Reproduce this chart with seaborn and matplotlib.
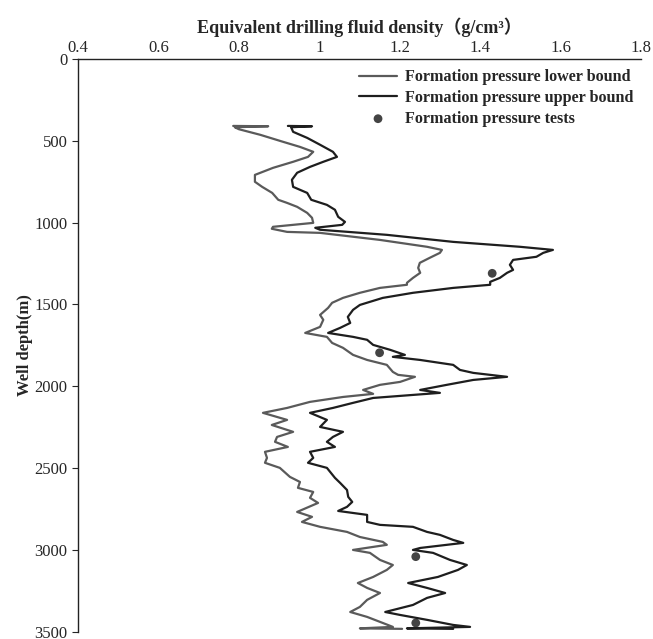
import matplotlib
matplotlib.use("Agg")
import matplotlib.pyplot as plt
import seaborn as sns
from matplotlib.ticker import FuncFormatter

sns.set_style("ticks")
plt.rcParams["font.family"] = ["Liberation Serif", "Noto Sans CJK SC"]
plt.rcParams["font.size"] = 12

# formation pressure lower bound (depth m, g/cm3)
lower_depth = [410, 412, 418, 430, 464, 507, 538, 568, 599, 629, 666, 709, 751, 782, 819,
               861, 880, 904, 941, 971, 1002, 1026, 1038, 1057, 1063, 1106, 1148, 1167, 1185,
               1215, 1246, 1277, 1307, 1338, 1368, 1380, 1399, 1429, 1460, 1490, 1521, 1564,
               1594, 1637, 1674, 1698, 1735, 1765, 1808, 1839, 1869, 1912, 1930, 1942, 1973,
               1991, 2022, 2046, 2065, 2095, 2132, 2162, 2205, 2236, 2278, 2309, 2339, 2370,
               2400, 2437, 2467, 2498, 2553, 2584, 2620, 2645, 2681, 2712, 2767, 2797, 2828,
               2858, 2889, 2920, 2950, 2968, 2999, 3017, 3060, 3091, 3121, 3164, 3201, 3231,
               3262, 3304, 3347, 3378, 3408, 3445, 3469, 3478, 3481]
lower_val = [0.786, 0.873, 0.79, 0.80, 0.853, 0.91, 0.952, 0.985, 0.972, 0.935, 0.885, 0.84,
             0.84, 0.858, 0.883, 0.898, 0.92, 0.945, 0.97, 0.982, 0.985, 0.885, 0.882, 0.92,
             1.002, 1.151, 1.268, 1.305, 1.30, 1.275, 1.25, 1.246, 1.251, 1.233, 1.218, 1.218,
             1.151, 1.101, 1.059, 1.032, 1.022, 1.002, 1.010, 1.002, 0.965, 1.019, 1.032,
             1.059, 1.084, 1.119, 1.168, 1.183, 1.196, 1.238, 1.201, 1.151, 1.109, 1.134,
             1.059, 0.977, 0.92, 0.86, 0.92, 0.882, 0.935, 0.895, 0.89, 0.922, 0.865, 0.87,
             0.865, 0.902, 0.927, 0.952, 0.947, 0.985, 0.977, 0.997, 0.945, 0.982, 0.957,
             1.002, 1.069, 1.101, 1.158, 1.168, 1.084, 1.126, 1.151, 1.183, 1.168, 1.134,
             1.096, 1.119, 1.151, 1.119, 1.101, 1.077, 1.119, 1.158, 1.183, 1.101, 1.206]

# formation pressure upper bound
upper_depth = [410, 412, 418, 446, 483, 525, 568, 599, 629, 660, 696, 739, 782, 819, 861,
               892, 922, 965, 996, 1014, 1032, 1044, 1075, 1118, 1148, 1167, 1185, 1209, 1228,
               1258, 1289, 1307, 1338, 1362, 1380, 1399, 1429, 1460, 1503, 1533, 1576, 1613,
               1643, 1674, 1698, 1716, 1747, 1777, 1808, 1820, 1839, 1869, 1900, 1918, 1942,
               1961, 1991, 2022, 2040, 2071, 2101, 2132, 2162, 2205, 2248, 2278, 2309, 2339,
               2370, 2400, 2437, 2467, 2498, 2559, 2590, 2633, 2675, 2706, 2736, 2761, 2785,
               2828, 2846, 2858, 2889, 2907, 2938, 2956, 2987, 2999, 3017, 3060, 3091, 3121,
               3164, 3201, 3231, 3262, 3292, 3335, 3378, 3396, 3426, 3457, 3469, 3478, 3481]
upper_val = [0.922, 0.982, 0.93, 0.935, 0.97, 1.002, 1.034, 1.044, 1.01, 0.977, 0.945, 0.932,
             0.935, 0.97, 0.98, 1.019, 1.039, 1.047, 1.064, 1.057, 0.99, 1.002, 1.168, 1.333,
             1.499, 1.581, 1.557, 1.54, 1.482, 1.474, 1.482, 1.467, 1.449, 1.425, 1.425, 1.333,
             1.233, 1.158, 1.101, 1.084, 1.071, 1.077, 1.052, 1.022, 1.084, 1.119, 1.134,
             1.176, 1.213, 1.183, 1.251, 1.333, 1.35, 1.383, 1.467, 1.383, 1.317, 1.251, 1.30,
             1.134, 1.084, 1.034, 0.977, 1.019, 1.002, 1.059, 1.034, 1.019, 1.039, 0.977,
             0.985, 0.972, 1.019, 1.039, 1.052, 1.069, 1.072, 1.082, 1.069, 1.047, 1.119,
             1.119, 1.151, 1.233, 1.268, 1.30, 1.333, 1.358, 1.251, 1.233, 1.283, 1.325,
             1.367, 1.345, 1.295, 1.221, 1.268, 1.313, 1.268, 1.233, 1.164, 1.201, 1.268,
             1.333, 1.375, 1.218, 1.333]

# formation pressure tests
test_depth = [1310, 1795, 3040, 3445]
test_val = [1.43, 1.15, 1.24, 1.24]

fig = plt.figure(figsize=(6.53, 6.39), dpi=100)
ax = fig.add_axes([0.1194, 0.011, 0.8622, 0.897])

sns.lineplot(x=lower_val, y=lower_depth, sort=False, estimator=None, orient="y",
             color="#5a5a5a", linewidth=1.6, ax=ax, label="Formation pressure lower bound")
sns.lineplot(x=upper_val, y=upper_depth, sort=False, estimator=None, orient="y",
             color="#1e1e1e", linewidth=1.6, ax=ax, label="Formation pressure upper bound")
sns.scatterplot(x=test_val, y=test_depth, color="#444444", s=40, edgecolor="none",
                ax=ax, label="Formation pressure tests")

ax.set_xlim(0.4, 1.8)
ax.set_ylim(3500, 0)
ax.set_xticks([0.4, 0.6, 0.8, 1.0, 1.2, 1.4, 1.6, 1.8])
ax.set_yticks(range(0, 3501, 500))
ax.xaxis.set_major_formatter(FuncFormatter(lambda v, p: "%g" % v))
ax.xaxis.tick_top()
ax.xaxis.set_label_position("top")
ax.tick_params(axis="x", length=0, pad=2, labelsize=12)
ax.tick_params(axis="y", length=4, width=0.8, labelsize=12)
for side in ["right", "bottom"]:
    ax.spines[side].set_visible(False)
for side in ["left", "top"]:
    ax.spines[side].set_linewidth(1.0)
    ax.spines[side].set_color("#222222")

ax.set_xlabel("Equivalent drilling fluid density（g/cm³）", fontweight="bold", fontsize=13, labelpad=5)
ax.set_ylabel("Well depth(m)", fontweight="bold", fontsize=12, labelpad=1)

leg = ax.legend(loc="upper left", bbox_to_anchor=(0.48, 1.0), frameon=False, borderpad=0.15,
                handlelength=2.4, handletextpad=0.45, labelspacing=0.3,
                prop={"weight": "bold", "size": 11.6})

fig.savefig("out.png", dpi=100)
